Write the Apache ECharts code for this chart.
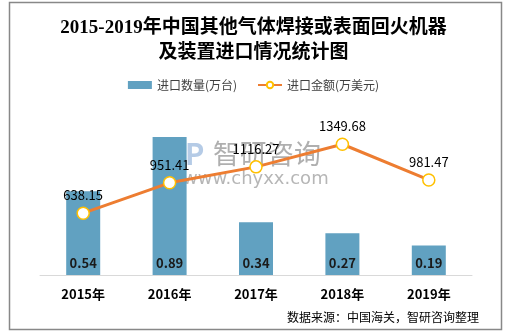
<!DOCTYPE html>
<html>
<head>
<meta charset="utf-8">
<script src="https://cdn.jsdelivr.net/npm/echarts@6/dist/echarts.min.js"></script>
<style>
  html, body { margin: 0; padding: 0; background: #fff; }
  #chart { width: 507px; height: 333px; }
</style>
</head>
<body>
<div id="chart"></div>
<script>
// Import of other gas welding / surface tempering machines, 2015-2019
const years = ['2015年', '2016年', '2017年', '2018年', '2019年'];
const quantity = [0.54, 0.89, 0.34, 0.27, 0.19];          // 万台
const amount = [638.15, 951.41, 1116.27, 1349.68, 981.47]; // 万美元

const chart = echarts.init(document.getElementById('chart'));
const cjk = '"Noto Sans CJK SC", "Noto Sans", sans-serif';

chart.setOption({
  backgroundColor: '#ffffff',
  animation: false,
  title: {
    text: '2015-2019年中国其他气体焊接或表面回火机器\n及装置进口情况统计图',
    left: 'center',
    top: 11,
    textStyle: {
      fontFamily: '"Liberation Serif", "Noto Sans CJK SC", serif',
      fontSize: 19,
      fontWeight: 'bold',
      color: '#000',
      lineHeight: 25
    }
  },
  legend: {
    top: 74,
    left: 'center',
    itemGap: 20,
    itemWidth: 24,
    itemHeight: 8,
    textStyle: { fontFamily: cjk, fontSize: 12, color: '#404040' },
    data: [
      { name: '进口数量(万台)', icon: 'rect' },
      { name: '进口金额(万美元)' }
    ]
  },
  grid: { left: 40, right: 35, top: 120, bottom: 58 },
  xAxis: {
    type: 'category',
    data: years,
    axisLine: { lineStyle: { color: '#d9d9d9', width: 1 } },
    axisTick: { show: false },
    axisLabel: {
      margin: 13,
      fontFamily: cjk,
      fontSize: 13,
      fontWeight: 'bold',
      color: '#000'
    }
  },
  yAxis: [
    { type: 'value', min: 0, max: 1, show: false, splitLine: { show: false } },
    { type: 'value', min: 0, max: 1600, show: false, splitLine: { show: false } }
  ],
  series: [
    {
      name: '进口数量(万台)',
      type: 'bar',
      data: quantity,
      barWidth: 34,
      itemStyle: { color: '#61a1c1' },
      label: {
        show: true,
        position: 'insideBottom',
        distance: 5,
        fontFamily: cjk,
        fontSize: 13,
        fontWeight: 'bold',
        color: '#1a1a1a'
      }
    },
    {
      name: '进口金额(万美元)',
      type: 'line',
      yAxisIndex: 1,
      data: amount,
      symbol: 'circle',
      symbolSize: 12,
      lineStyle: { color: '#ed7d31', width: 3 },
      itemStyle: { color: '#ffffff', borderColor: '#ffc000', borderWidth: 1.5 },
      label: {
        show: true,
        position: 'top',
        distance: 5,
        fontFamily: cjk,
        fontSize: 13,
        color: '#000',
        formatter: p => p.value.toFixed(2)
      },
      z: 3
    }
  ],
  graphic: [
    {
      type: 'rect',
      shape: { x: 9.5, y: 2.5, width: 492, height: 327 },
      style: { fill: 'none', stroke: '#888888', lineWidth: 1.5 },
      silent: true
    },
    {
      type: 'text',
      left: 287,
      top: 311,
      style: { text: '数据来源：中国海关，智研咨询整理', fontFamily: cjk, fontSize: 12, fill: '#000' }
    },
    // watermark
    {
      type: 'group',
      z: 100,
      children: [
        {
          type: 'text',
          x: 185, y: 139,
          style: { text: 'Р', fontFamily: cjk, fontSize: 29, fontWeight: 'bold', fill: 'rgba(120,160,210,0.55)' }
        },
        {
          type: 'text',
          x: 213, y: 140,
          style: { text: '智研咨询', fontFamily: cjk, fontSize: 27, fill: 'rgba(110,110,110,0.55)' }
        },
        {
          type: 'text',
          x: 183, y: 170,
          style: { text: 'www.chyxx.com', fontFamily: '"DejaVu Sans", sans-serif', fontSize: 18, fill: 'rgba(110,110,110,0.5)' }
        }
      ]
    }
  ]
});
</script>
</body>
</html>
